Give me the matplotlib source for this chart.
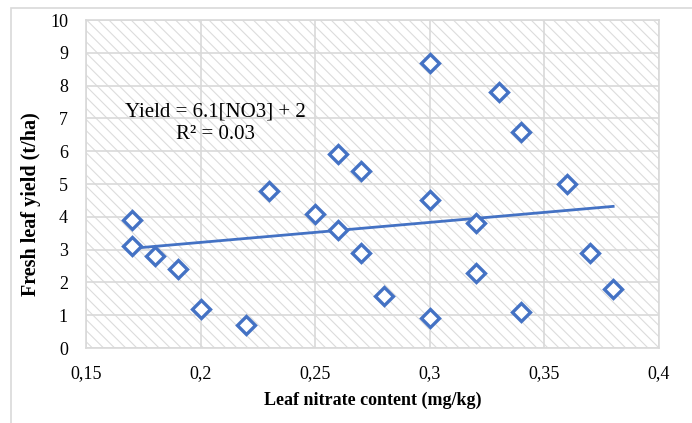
import matplotlib.pyplot as plt
from matplotlib.patches import Rectangle
from matplotlib.ticker import FuncFormatter

# leaf nitrate (mg/kg) vs fresh leaf yield (t/ha)
nitrate = [0.17, 0.17, 0.18, 0.19, 0.20, 0.22, 0.23, 0.25, 0.26, 0.26, 0.27, 0.27,
           0.28, 0.30, 0.30, 0.30, 0.32, 0.32, 0.33, 0.34, 0.34, 0.36, 0.37, 0.38]
yield_t = [3.9, 3.1, 2.8, 2.4, 1.2, 0.7, 4.8, 4.1, 5.9, 3.6, 5.4, 2.9,
           1.6, 8.7, 4.5, 0.9, 3.8, 2.3, 7.8, 6.6, 1.1, 5.0, 2.9, 1.8]

slope = 6.1
intercept = 2
trend_x = [min(nitrate), max(nitrate)]
trend_y = [slope * v + intercept for v in trend_x]

blue = "#4472C4"
grey = "#d9d9d9"

plt.rcParams['font.family'] = ['Liberation Serif', 'DejaVu Serif']
plt.rcParams['hatch.color'] = "#dcdcdc"
plt.rcParams['hatch.linewidth'] = 0.8

fig = plt.figure(figsize=(6.92, 4.23), dpi=100)
fig.patches.append(Rectangle((11 / 692, -0.05), 1.0, 0.981 + 0.05, transform=fig.transFigure,
                             facecolor="none", edgecolor=grey, lw=1.2))

ax = fig.add_axes([0.1243, 0.1773, 0.828, 0.7754])
ax.add_patch(Rectangle((0, 0), 1, 1, transform=ax.transAxes, facecolor="white",
                       edgecolor="#dcdcdc", hatch="\\" * 3, lw=0, zorder=0))

ax.plot(trend_x, trend_y, color=blue, lw=2, zorder=3)
ax.plot(nitrate, yield_t, linestyle="none", marker="D", markersize=9,
        markerfacecolor="white", markeredgecolor=blue, markeredgewidth=2.4, zorder=4)

ax.set_xlim(0.15, 0.4)
ax.set_ylim(0, 10)
ax.set_xticks([0.15, 0.2, 0.25, 0.3, 0.35, 0.4])
ax.set_yticks(range(0, 11))
ax.xaxis.set_major_formatter(FuncFormatter(lambda v, p: f"{v:g}".replace(".", ",")))
ax.grid(True, color=grey, lw=1.2, zorder=1)
ax.set_axisbelow(True)
ax.tick_params(length=0, labelsize=13)
ax.tick_params(axis="x", pad=12)
ax.tick_params(axis="y", pad=13)
for s in ax.spines.values():
    s.set_color(grey)
    s.set_linewidth(1.2)

ax.text(0.2064, 6.85, "Yield = 6.1[NO3] + 2\nR² = 0.03", ha="center", va="center",
        fontsize=15, linespacing=1.25, zorder=5)

ax.set_xlabel("Leaf nitrate content (mg/kg)", fontsize=13, fontweight="bold", labelpad=7)
ax.set_ylabel("Fresh leaf yield (t/ha)", fontsize=14.5, fontweight="bold")
ax.yaxis.set_label_coords(-0.078, 0.44)

fig.savefig("out.png", dpi=100)
